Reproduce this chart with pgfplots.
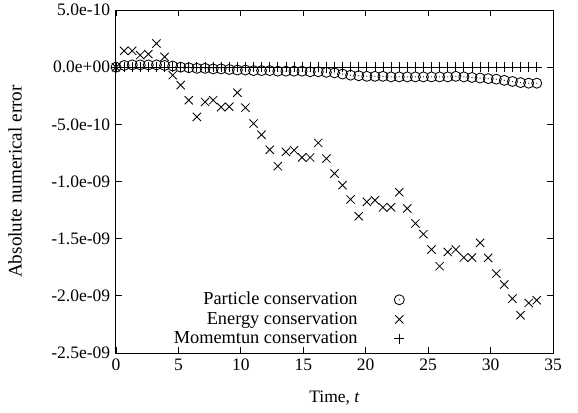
\documentclass[border=0pt]{standalone}
\usepackage{fontspec}
\setmainfont{Liberation Serif}
\usepackage{pgfplots}
\usepackage{pgfplotstable}
\pgfplotsset{compat=1.18}

% circle with a dot in the middle (gnuplot style)
\pgfdeclareplotmark{odot}{%
  \pgfpathcircle{\pgfpointorigin}{\pgfplotmarksize}\pgfusepathqstroke
  \pgfpathcircle{\pgfpointorigin}{0.35pt}\pgfusepathqfill}

% errors in units of 1e-10
\pgfplotstableread{
t     particle energy  momentum
0.00   0.00    0.00    0
0.65   0.15    1.43    0
1.30   0.20    1.43    0
1.94   0.20    1.05    0
2.59   0.20    1.14    0
3.24   0.20    2.07    0
3.89   0.15    0.90    0
4.54   0.10   -0.70    0
5.18   0.00   -1.57    0
5.83  -0.05   -2.89    0
6.48  -0.10   -4.35    0
7.13  -0.10   -3.04    0
7.78  -0.15   -2.89    0
8.42  -0.15   -3.50    0
9.07  -0.20   -3.46    0
9.72  -0.25   -2.23    0
10.37 -0.25   -3.54    0
11.02 -0.30   -4.93    0
11.66 -0.30   -5.91    0
12.31 -0.30   -7.22    0
12.96 -0.35   -8.66    0
13.61 -0.35   -7.41    0
14.26 -0.35   -7.26    0
14.90 -0.35   -7.90    0
15.55 -0.40   -7.90    0
16.20 -0.40   -6.62    0
16.85 -0.45   -7.99    0
17.50 -0.50   -9.30    0
18.14 -0.60  -10.32    0
18.79 -0.70  -11.57    0
19.44 -0.75  -13.04    0
20.09 -0.80  -11.78    0
20.74 -0.80  -11.64    0
21.38 -0.80  -12.27    0
22.03 -0.85  -12.25    0
22.68 -0.85  -10.94    0
23.33 -0.85  -12.36    0
23.98 -0.85  -13.67    0
24.62 -0.85  -14.61    0
25.27 -0.85  -15.95    0
25.92 -0.85  -17.41    0
26.57 -0.85  -16.16    0
27.22 -0.80  -15.95    0
27.86 -0.85  -16.65    0
28.51 -0.90  -16.65    0
29.16 -0.95  -15.37    0
29.81 -1.00  -16.68    0
30.46 -1.05  -18.05    0
31.10 -1.15  -19.01    0
31.75 -1.25  -20.24    0
32.40 -1.35  -21.70    0
33.05 -1.40  -20.62    0
33.70 -1.40  -20.38    0
}\errdata

\begin{document}
\begin{tikzpicture}
\useasboundingbox (-69.6pt,-35.4pt) rectangle (277.2pt,211.8pt);
\begin{axis}[
    at={(0,0)}, anchor=south west,
    scale only axis,
    width=262.2pt, height=205.8pt,
    xmin=0, xmax=35,
    ymin=-25, ymax=5,
    xtick={0,5,...,35},
    ytick={-25,-20,...,5},
    yticklabels={-2.5e-09,-2.0e-09,-1.5e-09,-1.0e-09,-5.0e-10,0.0e+00,5.0e-10},
    /pgf/number format/assume math mode=true,
    tick label style={font=\fontsize{10.5}{12}\selectfont},
    tick align=inside,
    major tick length=3.6pt,
    every tick/.style={black, line width=0.5pt},
    axis line style={line width=0.6pt},
    xlabel={Time, \textit{t}},
    ylabel={Absolute numerical error},
    every axis x label/.style={at={(axis description cs:0.5,-0.131)}, anchor=center,
        font=\fontsize{10.5}{12}\selectfont},
    every axis y label/.style={at={(axis description cs:-0.231,0.5)}, anchor=center,
        rotate=90, font=\fontsize{11.5}{13}\selectfont},
    legend plot pos=right,
    legend cell align=right,
    legend style={draw=none, fill=none, at={(axis description cs:0.672,0)},
        anchor=south east, row sep=-1.2pt, column sep=20pt,
        font=\fontsize{11}{13}\selectfont,
        nodes={font=\fontsize{11}{13}\selectfont}},
]
\addplot[only marks, mark=odot, mark size=3pt, line width=0.5pt]
    table[x=t, y=particle] {\errdata};
\addplot[only marks, mark=x, mark size=3.5pt, line width=0.5pt]
    table[x=t, y=energy] {\errdata};
\addplot[only marks, mark=+, mark size=3pt, line width=0.5pt]
    table[x=t, y=momentum] {\errdata};
\legend{Particle conservation, Energy conservation, Momemtun conservation}
\end{axis}
\end{tikzpicture}
\end{document}
